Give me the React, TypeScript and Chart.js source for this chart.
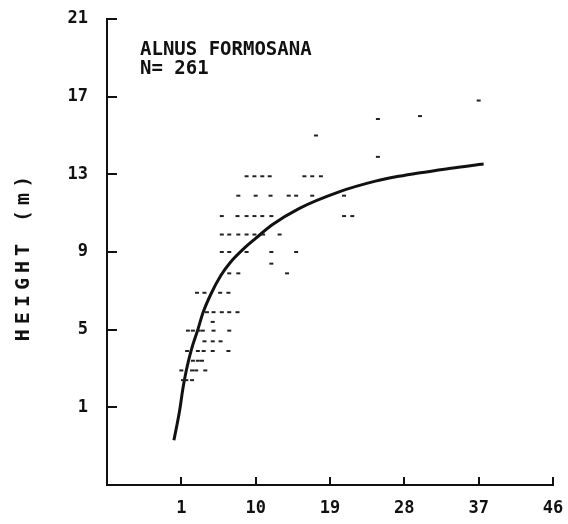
import React, { useEffect, useRef } from "react";
import { Chart, registerables } from "chart.js";

Chart.register(...registerables);

const speciesLabel = "ALNUS FORMOSANA";
const sampleLabel = "N= 261";
const yAxisTitle = "HEIGHT (m)";

const xTickValues = [1, 10, 19, 28, 37, 46];
const yTickValues = [1, 5, 9, 13, 17, 21];

// observed trees: diameter (x) and height (m)
const obsDiameter = [
  8.9, 9.85, 10.8, 11.7, 15.9, 16.85, 17.9,
  7.9, 10.0, 11.8, 14.0, 14.9, 16.85, 20.7,
  5.9, 7.8, 8.9, 9.85, 10.8, 11.9, 20.7, 21.7,
  5.9, 6.8, 7.9, 8.9, 9.85, 10.9, 12.9,
  5.9, 6.8, 8.9, 11.9, 14.9,
  11.9,
  6.8, 7.9, 13.8,
  2.9, 3.8, 5.7, 6.7,
  4.1, 4.9, 5.9, 6.8, 7.8,
  4.8,
  1.8, 2.4, 3.1, 3.6, 4.9, 6.8,
  3.8, 4.8, 5.75,
  1.7, 3.0, 3.7, 4.8, 6.7,
  2.4, 3.0, 3.5,
  1.0, 2.3, 2.8, 3.9,
  1.2, 1.6, 2.3,
  37.0, 24.8, 29.9, 17.3, 24.8,
];
const obsHeight = [
  12.9, 12.9, 12.9, 12.9, 12.9, 12.9, 12.9,
  11.9, 11.9, 11.9, 11.9, 11.9, 11.9, 11.9,
  10.85, 10.85, 10.85, 10.85, 10.85, 10.85, 10.85, 10.85,
  9.9, 9.9, 9.9, 9.9, 9.9, 9.9, 9.9,
  9.0, 9.0, 9.0, 9.0, 9.0,
  8.4,
  7.9, 7.9, 7.9,
  6.9, 6.9, 6.9, 6.9,
  5.9, 5.9, 5.9, 5.9, 5.9,
  5.4,
  4.95, 4.95, 4.95, 4.95, 4.95, 4.95,
  4.4, 4.4, 4.4,
  3.9, 3.9, 3.9, 3.9, 3.9,
  3.4, 3.4, 3.4,
  2.9, 2.9, 2.9, 2.9,
  2.4, 2.4, 2.4,
  16.8, 15.85, 16.0, 15.0, 13.9,
];

// fitted height-diameter curve
const curveDiameter = [0.1, 0.8, 1.2, 1.6, 2.2, 3.0, 3.6, 4.6, 5.8, 7.0, 8.5, 10.0, 12.0, 15.3, 20.1, 24.5, 27.3, 33.4, 37.6];
const curveHeight = [-0.7, 0.85, 2.0, 2.9, 3.95, 5.0, 5.85, 6.85, 7.8, 8.5, 9.15, 9.7, 10.4, 11.25, 12.1, 12.65, 12.9, 13.3, 13.53];

const INK = "#111111";
const FONT_FAMILY = "'DejaVu Sans Mono', 'Liberation Mono', monospace";

const decorPlugin = {
  id: "decor",
  afterDraw(chart: any) {
    const ctx = chart.ctx as CanvasRenderingContext2D;
    const { left, bottom } = chart.chartArea;
    const xs = chart.scales.x;
    const ys = chart.scales.y;
    ctx.save();
    ctx.strokeStyle = INK;
    ctx.lineWidth = 2;
    ys.ticks.forEach((t: any) => {
      const py = Math.round(ys.getPixelForValue(t.value));
      ctx.beginPath();
      ctx.moveTo(left, py);
      ctx.lineTo(left + 10, py);
      ctx.stroke();
    });
    xs.ticks.forEach((t: any) => {
      const px = Math.round(xs.getPixelForValue(t.value));
      ctx.beginPath();
      ctx.moveTo(px, bottom);
      ctx.lineTo(px, bottom - 8);
      ctx.stroke();
    });

    ctx.fillStyle = INK;
    ctx.font = `bold 19px ${FONT_FAMILY}`;
    ctx.textAlign = "left";
    ctx.textBaseline = "alphabetic";
    ctx.fillText(speciesLabel, 140, 55);
    ctx.fillText(sampleLabel, 140, 74);

    ctx.translate(24, 258);
    ctx.rotate(-Math.PI / 2);
    ctx.font = `bold 20px ${FONT_FAMILY}`;
    (ctx as any).letterSpacing = "5px";
    ctx.textAlign = "center";
    ctx.textBaseline = "middle";
    ctx.fillText(yAxisTitle, 2, 0);
    ctx.restore();
  },
};

export default function App() {
  const canvasRef = useRef<HTMLCanvasElement | null>(null);

  useEffect(() => {
    if (!canvasRef.current) return;
    const points = obsDiameter.map((d, i) => ({ x: d, y: obsHeight[i] }));
    const curve = curveDiameter.map((d, i) => ({ x: d, y: curveHeight[i] }));
    const tickFont = { family: FONT_FAMILY, size: 17, weight: "bold" as const };

    const chart = new Chart(canvasRef.current, {
      type: "scatter",
      data: {
        datasets: [
          {
            label: "observed",
            data: points,
            pointStyle: "line",
            pointRadius: 2,
            pointBorderWidth: 2,
            borderColor: "#222222",
            backgroundColor: "#222222",
          },
          {
            label: "fitted",
            data: curve,
            showLine: true,
            pointRadius: 0,
            borderWidth: 3,
            borderColor: INK,
            cubicInterpolationMode: "monotone",
          } as any,
        ],
      },
      options: {
        animation: false,
        responsive: false,
        layout: { padding: { left: 0, right: 15, top: 19, bottom: 0 } },
        plugins: { legend: { display: false }, tooltip: { enabled: false } },
        scales: {
          x: {
            type: "linear",
            min: -8,
            max: 46,
            afterBuildTicks: (s: any) => {
              s.ticks = xTickValues.map((v) => ({ value: v }));
            },
            afterFit: (s: any) => {
              s.height = 39;
              s.paddingLeft = 0;
              s.paddingRight = 0;
            },
            grid: { display: false, drawTicks: false },
            border: { display: true, color: INK, width: 2 },
            ticks: { padding: 13, color: INK, font: tickFont, maxRotation: 0 },
          },
          y: {
            type: "linear",
            min: -3,
            max: 21,
            afterBuildTicks: (s: any) => {
              s.ticks = yTickValues.map((v) => ({ value: v }));
            },
            afterFit: (s: any) => {
              s.width = 107;
              s.paddingTop = 0;
              s.paddingBottom = 0;
            },
            grid: { display: false, drawTicks: false },
            border: { display: true, color: INK, width: 2 },
            ticks: { padding: 19, color: INK, font: tickFont },
          },
        },
      },
      plugins: [decorPlugin],
    });
    return () => chart.destroy();
  }, []);

  return (
    <div style={{ position: "fixed", left: 0, top: 0, width: 568, height: 524, background: "#fff" }}>
      <canvas ref={canvasRef} width={568} height={524} />
    </div>
  );
}
